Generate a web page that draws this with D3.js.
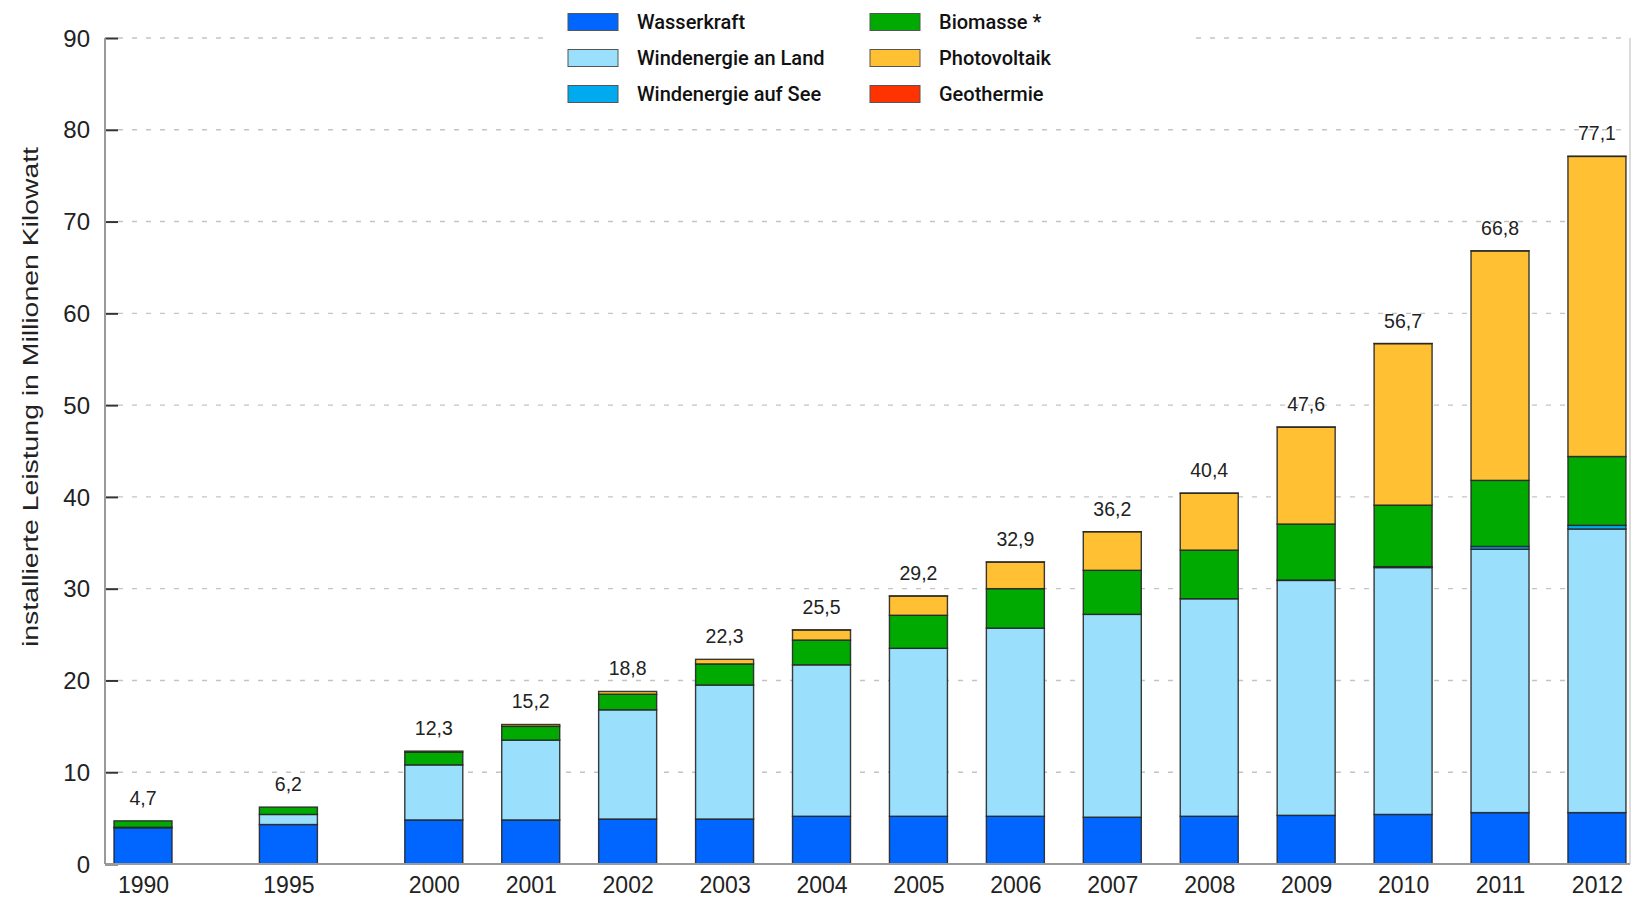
<!DOCTYPE html>
<html>
<head>
<meta charset="utf-8">
<script src="https://cdn.jsdelivr.net/npm/d3@7"></script>
<style>
  html, body { margin: 0; padding: 0; background: #ffffff; }
  svg { display: block; }
</style>
</head>
<body>
<svg id="chart" width="1633" height="899"></svg>
<script>
// Installierte Leistung erneuerbarer Energien in Deutschland (Mio. kW)
const years = [1990, 1995, 2000, 2001, 2002, 2003, 2004, 2005, 2006, 2007, 2008, 2009, 2010, 2011, 2012];
const wasserkraft      = [3.95, 4.3, 4.8, 4.8, 4.9, 4.9, 5.2, 5.2, 5.2, 5.1, 5.2, 5.3, 5.4, 5.6, 5.6];
const windLand         = [0.05, 1.1, 6.0, 8.7, 11.9, 14.6, 16.5, 18.3, 20.5, 22.1, 23.7, 25.6, 26.9, 28.7, 30.9];
const windSee          = [0, 0, 0, 0, 0, 0, 0, 0, 0, 0, 0, 0.04, 0.1, 0.3, 0.4];
const biomasse         = [0.7, 0.8, 1.4, 1.5, 1.7, 2.3, 2.7, 3.6, 4.3, 4.8, 5.3, 6.1, 6.7, 7.2, 7.5];
const photovoltaik     = [0, 0, 0.1, 0.2, 0.3, 0.5, 1.1, 2.1, 2.9, 4.2, 6.2, 10.56, 17.6, 25.0, 32.7];
const geothermie       = [0, 0, 0, 0, 0, 0, 0.0002, 0.0002, 0.0004, 0.003, 0.003, 0.008, 0.008, 0.008, 0.012];

const seriesNames  = ["Wasserkraft", "Windenergie an Land", "Windenergie auf See", "Biomasse *", "Photovoltaik", "Geothermie"];
const seriesValues = [wasserkraft, windLand, windSee, biomasse, photovoltaik, geothermie];
const seriesColors = ["#0066ff", "#9adffc", "#00aaee", "#00aa00", "#ffc033", "#ff3300"];
const yTicks = [0, 10, 20, 30, 40, 50, 60, 70, 80, 90];

// Layout
const axisX = 105, plotRight = 1630;
const yBottom = 864, yTop = 38;
const slot = 96.93;            // distance between yearly bars
const firstCenter = 143;       // centre of the first bar
const barW = 58;

const svg = d3.select("#chart");
const fontSans = "'Liberation Sans', Arial, Helvetica, sans-serif";
const fontLegend = "Roboto, 'DejaVu Sans Condensed', sans-serif";

// Table rows for the stack layout
const rows = years.map((yr, i) => {
  const r = { year: yr };
  seriesNames.forEach((k, j) => { r[k] = seriesValues[j][i]; });
  return r;
});
const stacked = d3.stack().keys(seriesNames)(rows);

// Scales: 1990 and 1995 sit 1.5 slots apart, yearly bars from 2000 on
const x = d3.scaleLinear()
  .domain([1990, 1995, 2000, 2012])
  .range([firstCenter, firstCenter + 1.5 * slot, firstCenter + 3 * slot, firstCenter + 15 * slot]);
const y = d3.scaleLinear().domain([0, 90]).range([yBottom, yTop]);
const color = d3.scaleOrdinal().domain(seriesNames).range(seriesColors);

const de = d3.formatLocale({ decimal: ",", thousands: ".", grouping: [3], currency: ["", " €"] });
const fmt = de.format(".1f");

// Dashed horizontal grid
svg.append("g")
  .selectAll("line")
  .data(yTicks)
  .join("line")
  .attr("x1", axisX + 13)
  .attr("x2", plotRight)
  .attr("y1", d => y(d))
  .attr("y2", d => y(d))
  .attr("stroke", "#c4c4c4")
  .attr("stroke-width", 1.4)
  .attr("stroke-dasharray", "5,9");

// Right frame line
svg.append("line")
  .attr("x1", plotRight).attr("x2", plotRight)
  .attr("y1", yTop).attr("y2", yBottom)
  .attr("stroke", "#d0d0d0").attr("stroke-width", 1.5);

// Stacked bars
svg.append("g")
  .selectAll("g")
  .data(stacked)
  .join("g")
  .attr("fill", d => color(d.key))
  .selectAll("rect")
  .data(d => d)
  .join("rect")
  .attr("x", d => x(d.data.year) - barW / 2)
  .attr("width", barW)
  .attr("y", d => y(d[1]))
  .attr("height", d => Math.max(0, y(d[0]) - y(d[1])))
  .attr("stroke", "#262626")
  .attr("stroke-opacity", 0.9)
  .attr("stroke-width", 1.4);

// Totals above the bars
svg.append("g")
  .selectAll("text")
  .data(rows)
  .join("text")
  .attr("x", d => x(d.year))
  .attr("y", d => y(d3.sum(seriesNames, k => d[k])) - 16)
  .attr("text-anchor", "middle")
  .attr("font-family", fontSans)
  .attr("font-size", 19.5)
  .attr("fill", "#222")
  .text(d => fmt(d3.sum(seriesNames, k => d[k])));

// Y axis
const yAxis = d3.axisLeft(y).tickValues(yTicks).tickSizeInner(-13).tickSizeOuter(0).tickPadding(15);
const gy = svg.append("g").attr("transform", `translate(${axisX},0)`).call(yAxis);
gy.select(".domain").remove();
gy.selectAll(".tick line").attr("stroke", "#333").attr("stroke-width", 2);
gy.selectAll(".tick text")
  .attr("font-family", fontSans)
  .attr("font-size", 24)
  .attr("fill", "#222")
  .attr("dy", "0.34em");

svg.append("line")
  .attr("x1", axisX).attr("x2", axisX)
  .attr("y1", yTop).attr("y2", yBottom)
  .attr("stroke", "#9a9a9a").attr("stroke-width", 2);

// X axis
const xAxis = d3.axisBottom(x).tickValues(years).tickSize(0).tickPadding(13).tickFormat(d3.format("d"));
const gx = svg.append("g").attr("transform", `translate(0,${yBottom})`).call(xAxis);
gx.select(".domain").remove();
gx.selectAll(".tick text")
  .attr("font-family", fontSans)
  .attr("font-size", 23)
  .attr("fill", "#222");

svg.append("line")
  .attr("x1", axisX).attr("x2", plotRight)
  .attr("y1", yBottom).attr("y2", yBottom)
  .attr("stroke", "#9a9a9a").attr("stroke-width", 2);

// Y axis title
svg.append("text")
  .attr("transform", "translate(38,397) rotate(-90)")
  .attr("text-anchor", "middle")
  .attr("font-family", fontSans)
  .attr("font-size", 22)
  .attr("fill", "#222")
  .attr("textLength", 500)
  .attr("lengthAdjust", "spacingAndGlyphs")
  .text("installierte Leistung in Millionen Kilowatt");

// Legend (two columns, three rows) on a white panel
const legend = svg.append("g");
legend.append("rect")
  .attr("x", 552).attr("y", 0).attr("width", 640).attr("height", 112)
  .attr("fill", "#ffffff");

const legendCols = [568, 870];
const legendRows = [22, 58, 94];
const items = legend.selectAll("g.item")
  .data(seriesNames)
  .join("g")
  .attr("class", "item")
  .attr("transform", (d, i) => `translate(${legendCols[Math.floor(i / 3)]},${legendRows[i % 3]})`);

items.append("rect")
  .attr("x", 0).attr("y", -8.5)
  .attr("width", 50).attr("height", 17)
  .attr("fill", d => color(d))
  .attr("stroke", "#555").attr("stroke-width", 1);

items.append("text")
  .attr("x", 69)
  .attr("y", 0)
  .attr("dy", "0.37em")
  .attr("font-family", fontLegend)
  .attr("font-weight", 500)
  .attr("font-size", 20)
  .attr("fill", "#111")
  .text(d => d);
</script>
</body>
</html>
